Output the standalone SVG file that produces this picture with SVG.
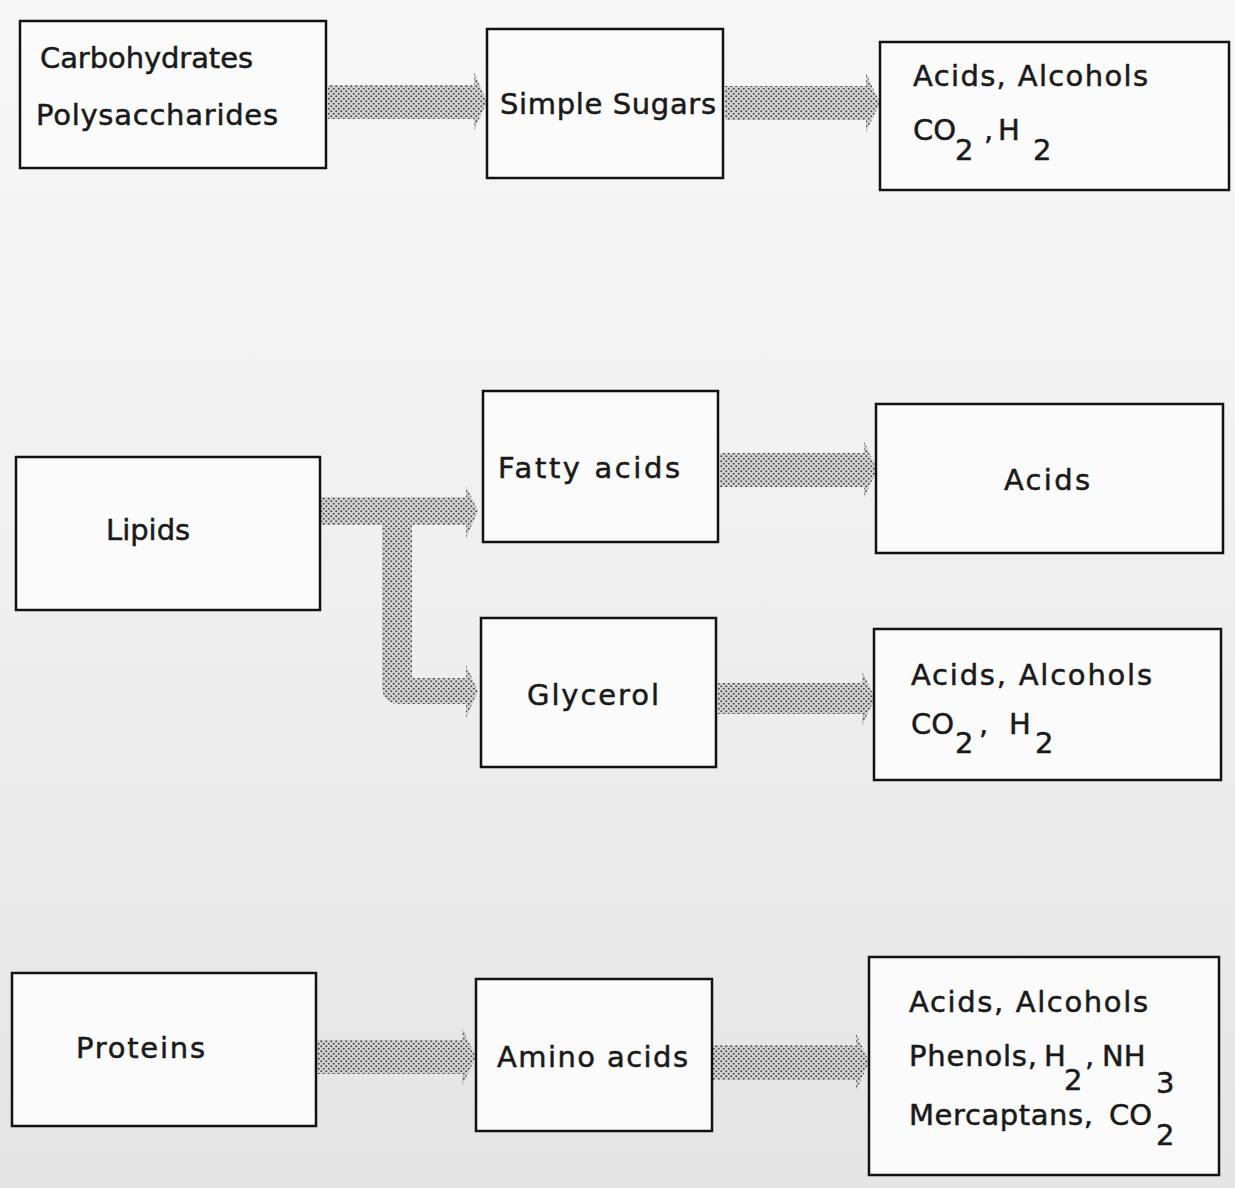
<svg xmlns="http://www.w3.org/2000/svg" width="1235" height="1188" viewBox="0 0 1235 1188">
<defs>
<linearGradient id="bg" x1="0" y1="0" x2="0" y2="1">
<stop offset="0" stop-color="#f7f7f7"/>
<stop offset="0.5" stop-color="#efefef"/>
<stop offset="1" stop-color="#e4e4e4"/>
</linearGradient>
<pattern id="dots" width="5" height="5" patternUnits="userSpaceOnUse">
<rect width="5" height="5" fill="#d6d6d6"/>
<circle cx="1.25" cy="1.25" r="1.1" fill="#505050"/>
<circle cx="3.75" cy="3.75" r="1.1" fill="#505050"/>
</pattern>
<style>
.box{fill:#fbfbfb;stroke:#111;stroke-width:2.5}
.t{font-family:"DejaVu Sans","Noto Sans",sans-serif;font-size:29px;fill:#1a1a1a;stroke:#1a1a1a;stroke-width:0.5}
.arr{fill:url(#dots);stroke:none}
</style>
</defs>
<rect width="1235" height="1188" fill="url(#bg)"/>

<g id="connectors">
<polygon class="arr" points="328,85 474,85 474,72 487,102 474,130 474,119 328,119"/>
<polygon class="arr" points="725,86 866,86 866,73 880,103 866,132 866,120 725,120"/>
<polygon class="arr" points="320,497 466,497 466,486 478,511 466,538 466,525 320,525"/>
<path class="arr" d="M382,524 L412,524 L412,678 L466,678 L466,665 L478,691 L466,718 L466,704 L400,704 Q382,704 382,686 Z"/>
<polygon class="arr" points="720,453 864,453 864,441 877,470 864,498 864,487 720,487"/>
<polygon class="arr" points="718,683 862,683 862,671 875,698 862,726 862,714 718,714"/>
<polygon class="arr" points="316,1040 462,1040 462,1028 476,1057 462,1086 462,1074 316,1074"/>
<polygon class="arr" points="712,1045 856,1045 856,1033 869,1062 856,1091 856,1080 712,1080"/>
</g>

<g id="carbohydrates">
<rect class="box" x="20" y="21" width="306" height="147"/>
<text class="t" x="40" y="68" textLength="213">Carbohydrates</text>
<text class="t" x="36" y="125" textLength="242">Polysaccharides</text>
</g>
<g id="simple-sugars">
<rect class="box" x="487" y="29" width="236" height="149"/>
<text class="t" x="500" y="114" textLength="216">Simple Sugars</text>
</g>
<g id="carb-products">
<rect class="box" x="880" y="42" width="349" height="148"/>
<text class="t" x="913" y="86" textLength="235">Acids, Alcohols</text>
<text class="t"><tspan x="913" y="140">CO</tspan><tspan x="955" y="160">2</tspan><tspan x="984" y="140">,</tspan><tspan x="998" y="140">H</tspan><tspan x="1033" y="160">2</tspan></text>
</g>

<g id="lipids">
<rect class="box" x="16" y="457" width="304" height="153"/>
<text class="t" x="106" y="540">Lipids</text>
</g>
<g id="fatty-acids">
<rect class="box" x="483" y="391" width="235" height="151"/>
<text class="t" x="498" y="478" textLength="182">Fatty acids</text>
</g>
<g id="acids">
<rect class="box" x="876" y="404" width="347" height="149"/>
<text class="t" x="1004" y="490" textLength="86">Acids</text>
</g>
<g id="glycerol">
<rect class="box" x="481" y="618" width="235" height="149"/>
<text class="t" x="527" y="705" textLength="132">Glycerol</text>
</g>
<g id="glycerol-products">
<rect class="box" x="874" y="629" width="347" height="151"/>
<text class="t" x="911" y="685" textLength="241">Acids, Alcohols</text>
<text class="t"><tspan x="911" y="734">CO</tspan><tspan x="955" y="753">2</tspan><tspan x="979" y="734">,</tspan><tspan x="1009" y="734">H</tspan><tspan x="1035" y="753">2</tspan></text>
</g>

<g id="proteins">
<rect class="box" x="12" y="973" width="304" height="153"/>
<text class="t" x="76" y="1058" textLength="129">Proteins</text>
</g>
<g id="amino-acids">
<rect class="box" x="476" y="979" width="236" height="152"/>
<text class="t" x="497" y="1067" textLength="191">Amino acids</text>
</g>
<g id="protein-products">
<rect class="box" x="869" y="957" width="350" height="218"/>
<text class="t" x="909" y="1012" textLength="239">Acids, Alcohols</text>
<text class="t"><tspan x="909" y="1066" textLength="128">Phenols,</tspan><tspan x="1044" y="1066">H</tspan><tspan x="1064" y="1090">2</tspan><tspan x="1085" y="1066">,</tspan><tspan x="1102" y="1066">NH</tspan><tspan x="1156" y="1093">3</tspan></text>
<text class="t"><tspan x="909" y="1125" textLength="184">Mercaptans,</tspan><tspan x="1109" y="1125">CO</tspan><tspan x="1156" y="1145">2</tspan></text>
</g>
</svg>
